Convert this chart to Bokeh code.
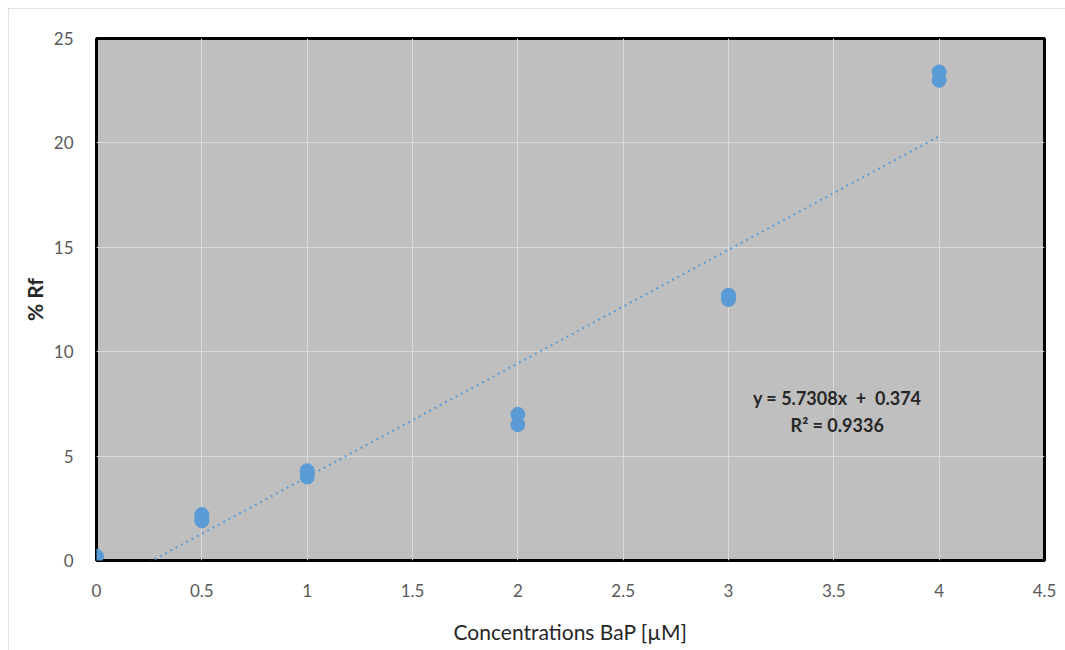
import numpy as np
from bokeh.plotting import figure
from bokeh.models import ColumnDataSource, FixedTicker, NumeralTickFormatter, Label, Range1d
from bokeh.embed import file_html
from bokeh.resources import INLINE

# ---- data ----
conc = [0, 0.5, 0.5, 0.5, 1, 1, 2, 2, 3, 3, 4, 4]
rf = [0.2, 2.2, 2.0, 1.9, 4.3, 4.0, 7.0, 6.5, 12.7, 12.5, 23.4, 23.0]
x_ticks = [0, 0.5, 1, 1.5, 2, 2.5, 3, 3.5, 4, 4.5]
y_ticks = [0, 5, 10, 15, 20, 25]
eq_text = "y = 5.7308x\u00a0 +\u00a0 0.374"
r2_text = "R\u00b2 = 0.9336"
x_title = "Concentrations BaP [\u00b5M]"
y_title = "% Rf"

BLUE = "#5b9bd5"
FONT = "Lato"

p = figure(width=1057, height=642, output_backend="svg", toolbar_location=None,
           x_range=Range1d(0, 4.5), y_range=Range1d(0, 25),
           min_border_left=88, min_border_right=21, min_border_top=30, min_border_bottom=90)
p.styles = {"outline": "1px solid #d9d9d9", "outline-offset": "-1px",
            "margin-left": "8px", "margin-top": "8px"}

p.background_fill_color = "#bfbfbf"
p.border_fill_color = "white"
p.outline_line_color = "black"
p.outline_line_width = 3

for ax in (p.xaxis[0], p.yaxis[0]):
    ax.axis_line_color = None
    ax.major_tick_line_color = None
    ax.minor_tick_line_color = None
    ax.major_label_text_color = "#595959"
    ax.major_label_text_font = FONT
    ax.major_label_text_font_size = "17px"
    ax.axis_label_text_font = FONT
    ax.axis_label_text_font_style = "normal"

p.xaxis.ticker = FixedTicker(ticks=x_ticks)
p.yaxis.ticker = FixedTicker(ticks=y_ticks)
p.xaxis.formatter = NumeralTickFormatter(format="0.[0]")
p.yaxis.formatter = NumeralTickFormatter(format="0")
p.xaxis.major_label_standoff = 17
p.yaxis.major_label_standoff = 17
p.xaxis.axis_label = x_title
p.yaxis.axis_label = y_title
p.xaxis.axis_label_text_font_size = "21px"
p.yaxis.axis_label_text_font_size = "21px"
p.yaxis.axis_label_text_font_style = "bold"
p.xaxis.axis_label_text_color = "#262626"
p.yaxis.axis_label_text_color = "#262626"
p.xaxis.axis_label_standoff = 19
p.yaxis.axis_label_standoff = 4

p.xgrid.grid_line_color = "#d9d9d9"
p.ygrid.grid_line_color = "#d9d9d9"
p.xgrid.grid_line_width = 1
p.ygrid.grid_line_width = 1

# trendline (least squares of the data)
slope, intercept = np.polyfit(conc, rf, 1)
tx = [min(conc), max(conc)]
ty = [slope * v + intercept for v in tx]
p.line(tx, ty, line_color=BLUE, line_width=2, line_dash="2 4")

src = ColumnDataSource(dict(x=conc, y=rf))
p.scatter("x", "y", source=src, size=14, fill_color=BLUE, line_color=BLUE)

p.add_layout(Label(x=3.516, y=7.8, text=eq_text, text_align="center", text_baseline="middle",
                   text_font=FONT, text_font_size="18px", text_font_style="bold",
                   text_color="#262626"))
p.add_layout(Label(x=3.516, y=6.5, text=r2_text, text_align="center", text_baseline="middle",
                   text_font=FONT, text_font_size="18px", text_font_style="bold",
                   text_color="#262626"))

open("out.html", "w").write(file_html(p, INLINE))
